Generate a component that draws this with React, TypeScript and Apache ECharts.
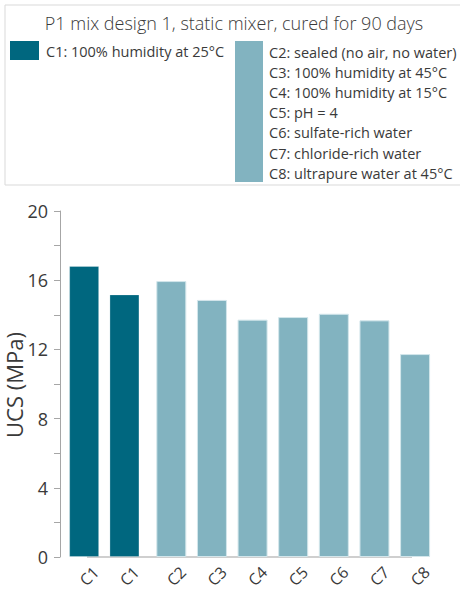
import React, { useEffect, useRef } from "react";
import * as echarts from "echarts";

const titleText = "P1 mix design 1, static mixer, cured for 90 days";
const groupACategories = ["C1", "C1"];
const groupAValues = [16.82, 15.18];
const groupBCategories = ["C2", "C3", "C4", "C5", "C6", "C7", "C8"];
const groupBValues = [15.95, 14.86, 13.72, 13.87, 14.06, 13.68, 11.73];
const legendA = ["C1: 100% humidity at 25°C"];
const legendB = [
  "C2: sealed (no air, no water)",
  "C3: 100% humidity at 45°C",
  "C4: 100% humidity at 15°C",
  "C5: pH = 4",
  "C6: sulfate-rich water",
  "C7: chloride-rich water",
  "C8: ultrapure water at 45°C",
];
const yTicks = { min: 0, max: 20, interval: 4 };
const yName = "UCS (MPa)";

const DARK = "#00677F";
const LIGHT = "#82B3C0";
const FONT = "'Open Sans', sans-serif";
const TXT = "#3a3a3a";

export default function App() {
  const ref = useRef<HTMLDivElement>(null);
  useEffect(() => {
    if (!ref.current) return;
    const chart = echarts.init(ref.current, undefined, { renderer: "svg" });

    const legendGraphics: any[] = [
      {
        type: "rect",
        shape: { x: 5, y: 5, width: 480, height: 180 },
        style: { fill: "#fff", stroke: "#d9d9d9", lineWidth: 1 },
        z: 0,
      },
      {
        type: "text",
        x: 234,
        y: 23,
        style: {
          text: titleText,
          font: `300 18px ${FONT}`,
          fill: TXT,
          align: "center",
          verticalAlign: "middle",
        },
        z: 2,
      },
      {
        type: "rect",
        shape: { x: 10, y: 41, width: 29, height: 19 },
        style: { fill: DARK },
        z: 2,
      },
      {
        type: "rect",
        shape: { x: 235, y: 41, width: 28, height: 141 },
        style: { fill: LIGHT },
        z: 2,
      },
      ...legendA.map((t, i) => ({
        type: "text",
        x: 46,
        y: 51 + i * 20.2,
        style: {
          text: t,
          font: `14.5px ${FONT}`,
          fill: TXT,
          align: "left",
          verticalAlign: "middle",
        },
        z: 2,
      })),
      ...legendB.map((t, i) => ({
        type: "text",
        x: 269,
        y: 52 + i * 20.2,
        style: {
          text: t,
          font: `14.5px ${FONT}`,
          fill: TXT,
          align: "left",
          verticalAlign: "middle",
        },
        z: 2,
      })),
      {
        type: "line",
        shape: { x1: 87, y1: 557, x2: 412, y2: 557 },
        style: { stroke: "#bfbfbf", lineWidth: 1.5 },
        z: 0,
      },
      {
        type: "text",
        x: 14,
        y: 385,
        rotation: Math.PI / 2,
        style: {
          text: yName,
          font: `22px ${FONT}`,
          fill: TXT,
          align: "center",
          verticalAlign: "middle",
        },
        z: 2,
      },
    ];

    const xLabel = {
      rotate: 45,
      fontFamily: FONT,
      fontSize: 16,
      color: TXT,
      align: "center",
      verticalAlign: "middle",
      margin: 24,
      padding: [0, 0, 0, 14],
    };

    chart.setOption({
      animation: false,
      grid: [
        { left: 64, width: 80.6, top: 211, height: 346, containLabel: false },
        { left: 151, width: 284.4, top: 211, height: 346, containLabel: false },
      ],
      xAxis: [
        {
          type: "category",
          gridIndex: 0,
          data: groupACategories,
          axisLine: { show: false },
          axisTick: { show: false },
          axisLabel: xLabel,
        },
        {
          type: "category",
          gridIndex: 1,
          data: groupBCategories,
          axisLine: { show: false },
          axisTick: { show: false },
          axisLabel: xLabel,
        },
      ],
      yAxis: [
        {
          type: "value",
          gridIndex: 0,
          min: yTicks.min,
          max: yTicks.max,
          interval: yTicks.interval,
          offset: 4,
          axisLine: { show: true, lineStyle: { color: "#a6a6a6", width: 1 } },
          axisTick: { show: true, length: 6, lineStyle: { color: "#a6a6a6" } },
          minorTick: { show: true, splitNumber: 2, length: 6, lineStyle: { color: "#a6a6a6" } },
          splitLine: { show: false },
          axisLabel: { fontFamily: FONT, fontSize: 18, color: TXT, margin: 12 },
        },
        {
          type: "value",
          gridIndex: 1,
          min: yTicks.min,
          max: yTicks.max,
          interval: yTicks.interval,
          show: false,
          splitLine: { show: false },
        },
      ],
      series: [
        {
          type: "bar",
          xAxisIndex: 0,
          yAxisIndex: 0,
          data: groupAValues,
          barWidth: 30,
          itemStyle: { color: DARK, borderColor: "rgba(255,255,255,0.25)", borderWidth: 1 },
        },
        {
          type: "bar",
          xAxisIndex: 1,
          yAxisIndex: 1,
          data: groupBValues,
          barWidth: 30,
          itemStyle: { color: LIGHT, borderColor: "#d3e6eb", borderWidth: 1 },
        },
      ],
      graphic: legendGraphics,
    });
    return () => chart.dispose();
  }, []);
  return (
    <div
      ref={ref}
      style={{ position: "fixed", left: 0, top: 0, width: 460, height: 592, background: "#fff" }}
    />
  );
}
